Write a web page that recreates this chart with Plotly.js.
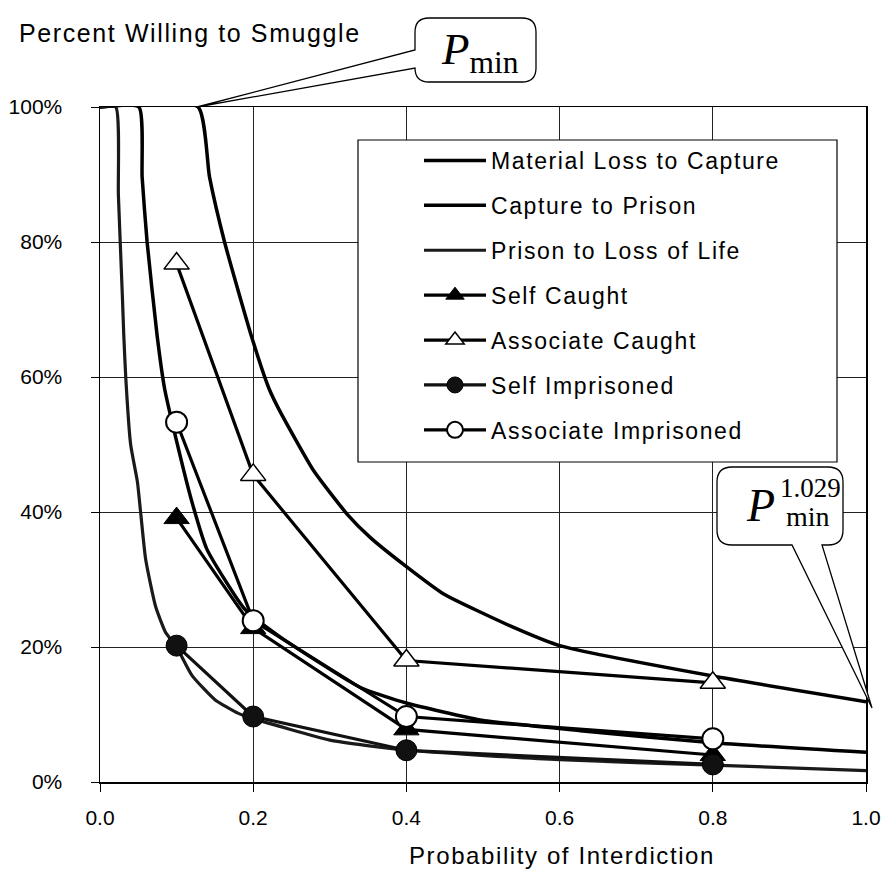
<!DOCTYPE html>
<html>
<head>
<meta charset="utf-8">
<script src="https://cdn.plot.ly/plotly-3.0.1.min.js"></script>
<style>
  html, body { margin: 0; padding: 0; background: #fff; }
  #chart { width: 885px; height: 884px; }
  text[style*="Liberation Sans"] { letter-spacing: 1.6px; }
</style>
</head>
<body>
<div id="chart"></div>
<script>
// ---- Data ----
const interdiction = [0.1, 0.2, 0.4, 0.8];
const selfCaught = [0.391, 0.228, 0.078, 0.040];
const associateCaught = [0.768, 0.455, 0.180, 0.147];
const selfImprisoned = [0.202, 0.097, 0.047, 0.026];
const associateImprisoned = [0.533, 0.239, 0.097, 0.064];

const materialX = [0, 0.128, 0.143, 0.1626, 0.197, 0.2206, 0.235, 0.279, 0.3225, 0.353, 0.4, 0.448, 0.54, 0.6, 0.8, 1.0];
const materialY = [1, 1, 0.896, 0.80, 0.663, 0.583, 0.549, 0.461, 0.397, 0.362, 0.319, 0.279, 0.229, 0.202, 0.157, 0.119];

const captureX = [0, 0.0508, 0.055, 0.0615, 0.0744, 0.0843, 0.1, 0.12, 0.1395, 0.189, 0.235, 0.34, 0.4, 0.496, 0.627, 0.8, 1.0];
const captureY = [1, 1, 0.896, 0.80, 0.663, 0.583, 0.505, 0.415, 0.345, 0.256, 0.215, 0.14, 0.117, 0.092, 0.076, 0.058, 0.044];

const prisonX = [0, 0.0206, 0.024, 0.0292, 0.031, 0.0337, 0.040, 0.0488, 0.053, 0.0596, 0.0726, 0.0855, 0.1, 0.12, 0.15, 0.18, 0.2, 0.3, 0.4, 0.6, 0.8, 1.0];
const prisonY = [1, 1, 0.87, 0.72, 0.663, 0.598, 0.50, 0.445, 0.40, 0.33, 0.26, 0.222, 0.200, 0.158, 0.122, 0.102, 0.094, 0.062, 0.047, 0.033, 0.025, 0.017];

const xTicks = [0, 0.2, 0.4, 0.6, 0.8, 1.0];
const yTicks = [0, 0.2, 0.4, 0.6, 0.8, 1.0];

const seriesNames = ["Material Loss to Capture", "Capture to Prison", "Prison to Loss of Life",
  "Self Caught", "Associate Caught", "Self Imprisoned", "Associate Imprisoned"];

// ---- Geometry helpers (pixel -> paper) ----
const ML = 100, MR = 19, MT = 107, MB = 102, WW = 885, HH = 884;
const PL = ML, PR = WW - MR, PT = MT, PB = HH - MB;
const px = x => (x - PL) / (PR - PL);
const py = y => (PB - y) / (PB - PT);
const P = (x, y) => px(x).toFixed(5) + ',' + py(y).toFixed(5);

function calloutLeft(l, t, r, b, rad, y1, y2, tx, ty) {
  return 'M' + P(l + rad, t) + ' L' + P(r - rad, t) + ' Q' + P(r, t) + ' ' + P(r, t + rad) +
    ' L' + P(r, b - rad) + ' Q' + P(r, b) + ' ' + P(r - rad, b) +
    ' L' + P(l + rad, b) + ' Q' + P(l, b) + ' ' + P(l, b - rad) +
    ' L' + P(l, y2) + ' L' + P(tx, ty) + ' L' + P(l, y1) +
    ' L' + P(l, t + rad) + ' Q' + P(l, t) + ' ' + P(l + rad, t) + ' Z';
}
function calloutBottom(l, t, r, b, rad, x1, x2, tx, ty) {
  return 'M' + P(l + rad, t) + ' L' + P(r - rad, t) + ' Q' + P(r, t) + ' ' + P(r, t + rad) +
    ' L' + P(r, b - rad) + ' Q' + P(r, b) + ' ' + P(r - rad, b) +
    ' L' + P(x2, b) + ' L' + P(tx, ty) + ' L' + P(x1, b) +
    ' L' + P(l + rad, b) + ' Q' + P(l, b) + ' ' + P(l, b - rad) +
    ' L' + P(l, t + rad) + ' Q' + P(l, t) + ' ' + P(l + rad, t) + ' Z';
}

const curveLine = (c, w) => ({ color: c, width: w, shape: 'spline', smoothing: 0.5 });

const traces = [
  { x: materialX, y: materialY, name: seriesNames[0], mode: 'lines', line: curveLine('#000', 3.5), legendgroup: 'a' },
  { x: captureX, y: captureY, name: seriesNames[1], mode: 'lines', line: curveLine('#000', 3.5), legendgroup: 'b' },
  { x: prisonX, y: prisonY, name: seriesNames[2], mode: 'lines', line: curveLine('#1a1a1a', 3.2), legendgroup: 'c' },
  { x: interdiction, y: selfCaught, name: seriesNames[3], mode: 'lines+markers',
    line: { color: '#000', width: 3.2 },
    marker: { symbol: 'triangle-up', size: 22, color: '#000', line: { color: '#000', width: 1 } }, legendgroup: 'd' },
  { x: interdiction, y: associateCaught, name: seriesNames[4], mode: 'lines+markers',
    line: { color: '#000', width: 3.2 },
    marker: { symbol: 'triangle-up', size: 22, color: '#fff', line: { color: '#000', width: 1.5 } }, legendgroup: 'e' },
  { x: interdiction, y: selfImprisoned, name: seriesNames[5], mode: 'lines+markers',
    line: { color: '#111', width: 3.2 },
    marker: { symbol: 'circle', size: 21, color: '#111', line: { color: '#000', width: 1 } }, legendgroup: 'f' },
  { x: interdiction, y: associateImprisoned, name: seriesNames[6], mode: 'lines+markers',
    line: { color: '#000', width: 3.2 },
    marker: { symbol: 'circle', size: 21, color: '#fff', line: { color: '#000', width: 2 } }, legendgroup: 'g' }
].map(t => Object.assign({ type: 'scatter', hoverinfo: 'skip', cliponaxis: true }, t));

const sans = 'Liberation Sans';
const serif = 'Liberation Serif';

const axisCommon = {
  range: [0, 1], fixedrange: true,
  showgrid: true, gridcolor: '#222', gridwidth: 1,
  showline: true, linecolor: '#000', linewidth: 1.5, mirror: true,
  zeroline: false, ticks: 'outside', ticklen: 8, tickwidth: 1, tickcolor: '#000',
  tickfont: { family: 'Arial', size: 21, color: '#000' }
};

const layout = {
  width: WW, height: HH,
  margin: { l: ML, r: MR, t: MT, b: MB, pad: 0 },
  paper_bgcolor: '#fff', plot_bgcolor: '#fff',
  showlegend: true,
  xaxis: Object.assign({}, axisCommon, { tickvals: xTicks, tickformat: '.1f', ticklabelstandoff: 8 }),
  yaxis: Object.assign({}, axisCommon, { tickvals: yTicks, tickformat: '.0%', ticklabelstandoff: 24 }),
  legend: {
    x: px(419), xanchor: 'left', y: py(139), yanchor: 'top',
    bgcolor: 'rgba(0,0,0,0)', borderwidth: 0,
    font: { family: sans, size: 23, color: '#000' },
    itemwidth: 62, tracegroupgap: 12, traceorder: 'grouped', itemclick: false, itemdoubleclick: false
  },
  shapes: [
    { type: 'rect', xref: 'paper', yref: 'paper', x0: px(358), x1: px(837), y0: py(140), y1: py(462),
      line: { color: '#000', width: 1.2 }, fillcolor: '#fff', layer: 'above' },
    { type: 'path', xref: 'paper', yref: 'paper', layer: 'above',
      path: calloutLeft(415, 18, 536, 82, 14, 50, 68, 197, 107),
      line: { color: '#000', width: 1.3 }, fillcolor: '#fff' },
    { type: 'path', xref: 'paper', yref: 'paper', layer: 'above',
      path: calloutBottom(717, 467, 843, 545, 15, 792, 822, 872, 708),
      line: { color: '#000', width: 1.3 }, fillcolor: '#fff' }
  ],
  annotations: [
    { text: 'Percent Willing to Smuggle', xref: 'paper', yref: 'paper', x: px(17), y: py(33),
      xanchor: 'left', yanchor: 'middle', showarrow: false, font: { family: sans, size: 25, color: '#000' } },
    { text: 'Probability of Interdiction', xref: 'paper', yref: 'paper', x: px(562), y: py(855),
      xanchor: 'center', yanchor: 'middle', showarrow: false, font: { family: sans, size: 24, color: '#000' } },
    { text: '<i>P</i><sub>min</sub>', xref: 'paper', yref: 'paper', x: px(480), y: py(52),
      xanchor: 'center', yanchor: 'middle', showarrow: false, font: { family: serif, size: 45, color: '#000' } },
    { text: '<i>P</i>', xref: 'paper', yref: 'paper', x: px(760), y: py(505),
      xanchor: 'center', yanchor: 'middle', showarrow: false, font: { family: serif, size: 46, color: '#000' } },
    { text: '1.029', xref: 'paper', yref: 'paper', x: px(810), y: py(488),
      xanchor: 'center', yanchor: 'middle', showarrow: false, font: { family: serif, size: 27, color: '#000' } },
    { text: 'min', xref: 'paper', yref: 'paper', x: px(808), y: py(516),
      xanchor: 'center', yanchor: 'middle', showarrow: false, font: { family: serif, size: 28, color: '#000' } }
  ]
};

Plotly.newPlot('chart', traces, layout, { staticPlot: true, displayModeBar: false });
</script>
</body>
</html>
